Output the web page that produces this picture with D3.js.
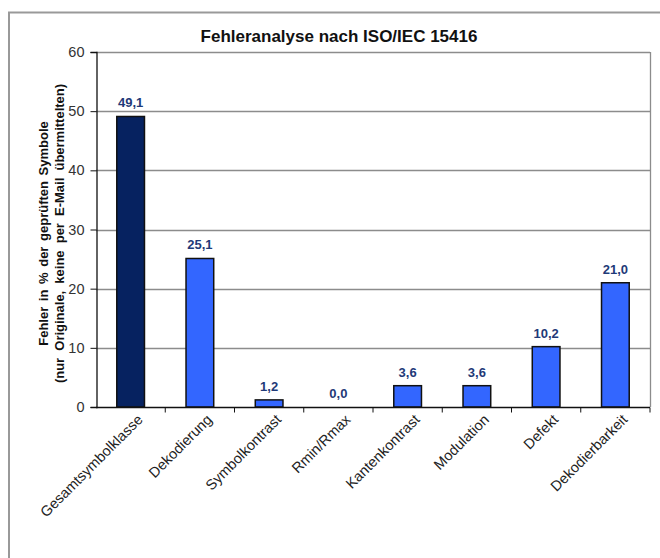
<!DOCTYPE html>
<html lang="de">
<head>
    <meta charset="utf-8">
    <title>Fehleranalyse nach ISO/IEC 15416</title>
    <script type="text/javascript" src="https://d3js.org/d3.v7.min.js"></script>
    <style type="text/css">
        body {
            margin: 0;
            background: white;
            font-family: "Liberation Sans", Arial, sans-serif;
        }
        .value {
            font-weight: bold;
            font-size: 13px;
            fill: #1f3a78;
            text-anchor: middle;
        }
        .cat {
            font-size: 14.5px;
            fill: #222;
        }
    </style>
</head>
<body>
    <div id="chart"></div>
    <script type="text/javascript">

        //Chart data
        var categories = ["Gesamtsymbolklasse", "Dekodierung", "Symbolkontrast", "Rmin/Rmax",
            "Kantenkontrast", "Modulation", "Defekt", "Dekodierbarkeit"];
        var values = [49.1, 25.1, 1.2, 0.0, 3.6, 3.6, 10.2, 21.0];
        var yTicks = [0, 10, 20, 30, 40, 50, 60];

        //Width and height
        var w = 660;
        var h = 558;
        var plotLeft = 96, plotRight = 650, plotTop = 52, plotBottom = 407;

        var svg = d3.select("#chart")
            .append("svg")
            .attr("width", w)
            .attr("height", h);

        //Outer frame
        svg.append("rect")
            .attr("x", 9)
            .attr("y", 12.5)
            .attr("width", 700)
            .attr("height", 600)
            .attr("fill", "none")
            .attr("stroke", "#999")
            .attr("stroke-width", 2);

        //Scales
        var x = d3.scaleBand()
            .domain(categories)
            .range([plotLeft, plotRight])
            .paddingInner(0.6)
            .paddingOuter(0.3);

        var xTickPos = d3.scaleBand()
            .domain(categories)
            .range([plotLeft, plotRight]);

        var y = d3.scaleLinear()
            .domain([0, 60])
            .range([plotBottom, plotTop]);

        //Gridlines
        svg.selectAll("line.grid")
            .data(yTicks.slice(1))
            .enter()
            .append("line")
            .attr("class", "grid")
            .attr("x1", plotLeft)
            .attr("x2", plotRight)
            .attr("y1", function (d) { return Math.round(y(d)) + 0.5; })
            .attr("y2", function (d) { return Math.round(y(d)) + 0.5; })
            .attr("stroke", "#8c8c8c")
            .attr("stroke-width", 1.3);

        //Right border of plot area
        svg.append("line")
            .attr("x1", plotRight + 0.5)
            .attr("x2", plotRight + 0.5)
            .attr("y1", plotTop)
            .attr("y2", plotBottom)
            .attr("stroke", "#8c8c8c")
            .attr("stroke-width", 1.3);

        //Bars
        svg.selectAll("rect.bar")
            .data(values)
            .enter()
            .append("rect")
            .attr("class", "bar")
            .attr("x", function (d, i) { return x(categories[i]); })
            .attr("y", function (d) { return y(d); })
            .attr("width", x.bandwidth())
            .attr("height", function (d) { return y(0) - y(d); })
            .attr("fill", function (d, i) { return i === 0 ? "#062260" : "#3366ff"; })
            .attr("stroke", "#111")
            .attr("stroke-width", 1.5);

        //Value labels
        svg.selectAll("text.value")
            .data(values)
            .enter()
            .append("text")
            .attr("class", "value")
            .attr("x", function (d, i) { return x(categories[i]) + x.bandwidth() / 2; })
            .attr("y", function (d) { return y(d) - 9; })
            .text(function (d) { return d.toFixed(1).replace(".", ","); });

        //Y axis
        var yAxis = svg.append("g")
            .attr("transform", "translate(" + (plotLeft + 0.5) + ",0)")
            .call(d3.axisLeft(y).tickValues(yTicks).tickSize(6).tickPadding(6));
        yAxis.select(".domain").attr("stroke", "#111").attr("stroke-width", 1.3);
        yAxis.selectAll(".tick line").attr("stroke", "#111");
        yAxis.selectAll("text")
            .attr("font-size", "14.5px")
            .attr("font-family", "Liberation Sans, Arial, sans-serif")
            .attr("fill", "#333");

        //X axis (ticks between categories)
        var xAxis = svg.append("g")
            .attr("transform", "translate(0," + (plotBottom + 0.5) + ")");
        xAxis.append("line")
            .attr("x1", plotLeft)
            .attr("x2", plotRight)
            .attr("stroke", "#111")
            .attr("stroke-width", 1.3);
        xAxis.selectAll("line.tick")
            .data(categories)
            .enter()
            .append("line")
            .attr("class", "tick")
            .attr("x1", function (d) { return xTickPos(d) + xTickPos.bandwidth(); })
            .attr("x2", function (d) { return xTickPos(d) + xTickPos.bandwidth(); })
            .attr("y1", 0)
            .attr("y2", 5)
            .attr("stroke", "#111");

        //Category labels, rotated
        xAxis.selectAll("text.cat")
            .data(categories)
            .enter()
            .append("text")
            .attr("class", "cat")
            .attr("text-anchor", "end")
            .attr("transform", function (d) {
                var cx = x(d) + x.bandwidth() / 2 + 13;
                return "translate(" + cx + ",13) rotate(-45)";
            })
            .text(function (d) { return d; });

        //Title
        svg.append("text")
            .attr("x", 339)
            .attr("y", 42)
            .attr("text-anchor", "middle")
            .attr("font-weight", "bold")
            .attr("font-size", "17px")
            .attr("fill", "#111")
            .text("Fehleranalyse nach ISO/IEC 15416");

        //Y axis title (two lines)
        var yTitle = svg.append("text")
            .attr("transform", "translate(48," + ((plotTop + plotBottom) / 2 + 4) + ") rotate(-90)")
            .attr("text-anchor", "middle")
            .attr("font-weight", "bold")
            .attr("font-size", "13px")
            .attr("fill", "#111")
            .attr("word-spacing", "2px");
        yTitle.append("tspan")
            .attr("x", 0)
            .attr("dy", 0)
            .text("Fehler in % der geprüften Symbole");
        yTitle.append("tspan")
            .attr("x", 0)
            .attr("dy", 16)
            .attr("word-spacing", "3.5px")
            .text("(nur Originale, keine per E-Mail übermittelten)");

    </script>
</body>
</html>
